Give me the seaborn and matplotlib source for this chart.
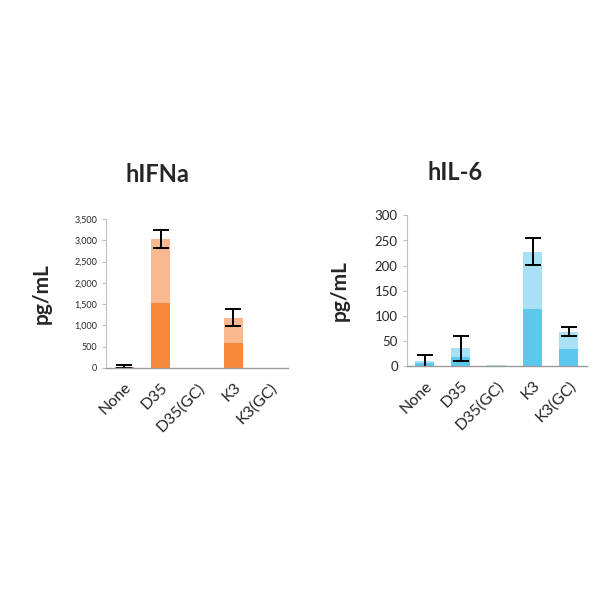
import matplotlib
matplotlib.use('Agg')
import matplotlib.pyplot as plt
import matplotlib.ticker as mticker
import seaborn as sns

# data
groups = ['None', 'D35', 'D35(GC)', 'K3', 'K3(GC)']

ifna_mean = [30, 3030, 0, 1180, 0]
ifna_err = [28, 215, 0, 205, 0]

il6_mean = [10, 35, 1.5, 228, 68]
il6_err = [12, 25, 0, 27, 9]

sns.set_style('white')
plt.rcParams['font.family'] = ['Lato', 'DejaVu Sans']

fig = plt.figure(figsize=(6, 6), dpi=100)
ax1 = fig.add_axes([0.177, 0.387, 0.303, 0.248])
ax2 = fig.add_axes([0.678, 0.39, 0.30, 0.251])


def draw_panel(ax, means, errs, light, dark, ymax, step, tick_size, pad):
    # full bar in the light tone, lower half in the darker tone (gradient look)
    sns.barplot(x=groups, y=means, ax=ax, color=light, width=0.52,
                saturation=1, errorbar=None, linewidth=0)
    sns.barplot(x=groups, y=[m / 2 for m in means], ax=ax, color=dark,
                width=0.52, saturation=1, errorbar=None, linewidth=0)
    idx = [i for i, e in enumerate(errs) if e > 0]
    ax.errorbar(idx, [means[i] for i in idx], yerr=[errs[i] for i in idx],
                fmt='none', ecolor='black', elinewidth=1.4, capsize=5.5,
                capthick=1.4)
    ax.set_ylim(0, ymax)
    ax.set_xlim(-0.5, len(groups) - 0.5)
    ax.yaxis.set_major_locator(mticker.MultipleLocator(step))
    ax.set_ylabel('pg/mL', fontsize=15, fontweight='bold', labelpad=pad)
    ax.set_xlabel('')
    ax.set_xticks(range(len(groups)))
    ax.set_xticklabels(groups, rotation=45, ha='right',
                       rotation_mode='anchor', fontsize=11.5)
    ax.tick_params(axis='x', length=0, pad=9)
    ax.tick_params(axis='y', labelsize=tick_size, length=3, width=0.8,
                   color='#BFBFBF', left=True)
    for s in ['top', 'right']:
        ax.spines[s].set_visible(False)
    ax.spines['left'].set_color('#BFBFBF')
    ax.spines['left'].set_linewidth(0.8)
    ax.spines['bottom'].set_color('#9A9A9A')
    ax.spines['bottom'].set_linewidth(1.0)


draw_panel(ax1, ifna_mean, ifna_err, '#FAB88E', '#F8893A', 3500, 500, 6.5, 16)
ax1.yaxis.set_major_formatter(mticker.FuncFormatter(lambda v, p: f'{v:,.0f}'))

draw_panel(ax2, il6_mean, il6_err, '#A8E0F5', '#5CC8EE', 300, 50, 9.5, 18)

fig.text(157 / 600, 1 - 174 / 600, 'hIFNa', fontsize=17, fontweight='bold',
         ha='center', va='center')
fig.text(455 / 600, 1 - 173 / 600, 'hIL-6', fontsize=17, fontweight='bold',
         ha='center', va='center')

fig.savefig('out.png', dpi=100, facecolor='white')
